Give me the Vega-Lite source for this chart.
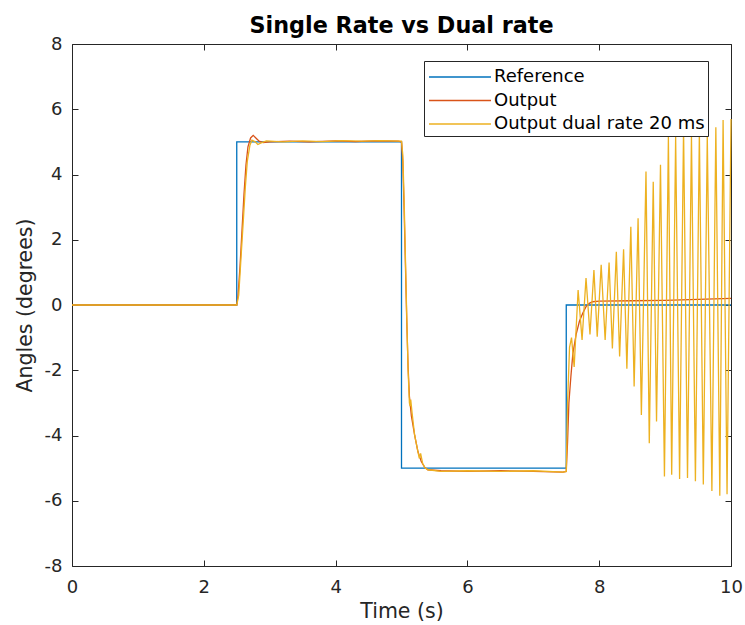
{
  "$schema": "https://vega.github.io/schema/vega-lite/v6.json",
  "width": 659,
  "height": 522,
  "autosize": {"type": "none"},
  "padding": {"left": 72, "top": 44, "right": 14, "bottom": 59},
  "background": "white",
  "title": {"text": "Single Rate vs Dual rate", "font": "DejaVu Sans", "fontSize": 22.3, "fontWeight": "bold", "color": "#000000", "offset": -2},
  "config": {
    "view": {"stroke": null},
    "axis": {"domainColor": "#262626", "tickColor": "#262626", "labelColor": "#262626", "titleColor": "#262626", "labelFont": "DejaVu Sans", "titleFont": "DejaVu Sans", "labelFontSize": 18, "titleFontSize": 20.5, "titleFontWeight": "normal", "grid": false, "tickSize": -6, "domainWidth": 1, "tickWidth": 1, "labelFlush": false, "labelOverlap": false, "labelExpr": "'' + datum.value"}
  },
  "data": {"values": [
    {"s": "Reference", "i": 0, "t": 0, "v": 0},
    {"s": "Reference", "i": 1, "t": 2.5, "v": 0},
    {"s": "Reference", "i": 2, "t": 2.5, "v": 5},
    {"s": "Reference", "i": 3, "t": 5, "v": 5},
    {"s": "Reference", "i": 4, "t": 5, "v": -5},
    {"s": "Reference", "i": 5, "t": 7.5, "v": -5},
    {"s": "Reference", "i": 6, "t": 7.5, "v": 0},
    {"s": "Reference", "i": 7, "t": 10, "v": 0},

    {"s": "Output", "i": 0, "t": 0, "v": 0},
    {"s": "Output", "i": 1, "t": 2.5, "v": 0},
    {"s": "Output", "i": 2, "t": 2.52, "v": 0.3},
    {"s": "Output", "i": 3, "t": 2.55, "v": 1.2},
    {"s": "Output", "i": 4, "t": 2.58, "v": 2.3},
    {"s": "Output", "i": 5, "t": 2.61, "v": 3.4},
    {"s": "Output", "i": 6, "t": 2.64, "v": 4.3},
    {"s": "Output", "i": 7, "t": 2.67, "v": 4.85},
    {"s": "Output", "i": 8, "t": 2.71, "v": 5.12},
    {"s": "Output", "i": 9, "t": 2.75, "v": 5.2},
    {"s": "Output", "i": 10, "t": 2.79, "v": 5.12},
    {"s": "Output", "i": 11, "t": 2.84, "v": 5.02},
    {"s": "Output", "i": 12, "t": 2.9, "v": 4.98},
    {"s": "Output", "i": 13, "t": 3.0, "v": 5.0},
    {"s": "Output", "i": 14, "t": 3.3, "v": 5.02},
    {"s": "Output", "i": 15, "t": 3.6, "v": 5.0},
    {"s": "Output", "i": 16, "t": 4.0, "v": 5.03},
    {"s": "Output", "i": 17, "t": 4.3, "v": 5.01},
    {"s": "Output", "i": 18, "t": 4.6, "v": 5.03},
    {"s": "Output", "i": 19, "t": 4.95, "v": 5.02},
    {"s": "Output", "i": 20, "t": 5.0, "v": 5.0},
    {"s": "Output", "i": 21, "t": 5.02, "v": 4.4},
    {"s": "Output", "i": 22, "t": 5.04, "v": 2.9},
    {"s": "Output", "i": 23, "t": 5.06, "v": 1.2},
    {"s": "Output", "i": 24, "t": 5.08, "v": -0.5},
    {"s": "Output", "i": 25, "t": 5.1, "v": -1.9},
    {"s": "Output", "i": 26, "t": 5.12, "v": -2.8},
    {"s": "Output", "i": 27, "t": 5.15, "v": -3.4},
    {"s": "Output", "i": 28, "t": 5.2, "v": -4.0},
    {"s": "Output", "i": 29, "t": 5.25, "v": -4.5},
    {"s": "Output", "i": 30, "t": 5.3, "v": -4.8},
    {"s": "Output", "i": 31, "t": 5.35, "v": -4.97},
    {"s": "Output", "i": 32, "t": 5.4, "v": -5.05},
    {"s": "Output", "i": 33, "t": 5.6, "v": -5.08},
    {"s": "Output", "i": 34, "t": 6.0, "v": -5.1},
    {"s": "Output", "i": 35, "t": 6.5, "v": -5.08},
    {"s": "Output", "i": 36, "t": 7.0, "v": -5.1},
    {"s": "Output", "i": 37, "t": 7.45, "v": -5.12},
    {"s": "Output", "i": 38, "t": 7.5, "v": -5.1},
    {"s": "Output", "i": 39, "t": 7.52, "v": -4.2},
    {"s": "Output", "i": 40, "t": 7.54, "v": -3.0},
    {"s": "Output", "i": 41, "t": 7.57, "v": -2.2},
    {"s": "Output", "i": 42, "t": 7.6, "v": -1.5},
    {"s": "Output", "i": 43, "t": 7.65, "v": -0.9},
    {"s": "Output", "i": 44, "t": 7.7, "v": -0.5},
    {"s": "Output", "i": 45, "t": 7.75, "v": -0.25},
    {"s": "Output", "i": 46, "t": 7.8, "v": -0.05},
    {"s": "Output", "i": 47, "t": 7.85, "v": 0.05},
    {"s": "Output", "i": 48, "t": 7.9, "v": 0.1},
    {"s": "Output", "i": 49, "t": 8.0, "v": 0.12},
    {"s": "Output", "i": 50, "t": 8.5, "v": 0.13},
    {"s": "Output", "i": 51, "t": 9.0, "v": 0.14},
    {"s": "Output", "i": 52, "t": 9.5, "v": 0.17},
    {"s": "Output", "i": 53, "t": 10.0, "v": 0.2},

    {"s": "Output dual rate 20 ms", "i": 0, "t": 0, "v": 0},
    {"s": "Output dual rate 20 ms", "i": 1, "t": 2.5, "v": 0},
    {"s": "Output dual rate 20 ms", "i": 2, "t": 2.53, "v": 0.3},
    {"s": "Output dual rate 20 ms", "i": 3, "t": 2.56, "v": 1.3},
    {"s": "Output dual rate 20 ms", "i": 4, "t": 2.6, "v": 2.6},
    {"s": "Output dual rate 20 ms", "i": 5, "t": 2.63, "v": 3.6},
    {"s": "Output dual rate 20 ms", "i": 6, "t": 2.66, "v": 4.4},
    {"s": "Output dual rate 20 ms", "i": 7, "t": 2.7, "v": 4.9},
    {"s": "Output dual rate 20 ms", "i": 8, "t": 2.73, "v": 5.05},
    {"s": "Output dual rate 20 ms", "i": 9, "t": 2.78, "v": 5.0},
    {"s": "Output dual rate 20 ms", "i": 10, "t": 2.82, "v": 4.92},
    {"s": "Output dual rate 20 ms", "i": 11, "t": 2.87, "v": 4.97},
    {"s": "Output dual rate 20 ms", "i": 12, "t": 2.95, "v": 5.03},
    {"s": "Output dual rate 20 ms", "i": 13, "t": 3.2, "v": 5.0},
    {"s": "Output dual rate 20 ms", "i": 14, "t": 3.5, "v": 5.03},
    {"s": "Output dual rate 20 ms", "i": 15, "t": 3.8, "v": 5.01},
    {"s": "Output dual rate 20 ms", "i": 16, "t": 4.1, "v": 5.04},
    {"s": "Output dual rate 20 ms", "i": 17, "t": 4.4, "v": 5.02},
    {"s": "Output dual rate 20 ms", "i": 18, "t": 4.7, "v": 5.04},
    {"s": "Output dual rate 20 ms", "i": 19, "t": 4.97, "v": 5.02},
    {"s": "Output dual rate 20 ms", "i": 20, "t": 5.0, "v": 5.02},
    {"s": "Output dual rate 20 ms", "i": 21, "t": 5.02, "v": 4.6},
    {"s": "Output dual rate 20 ms", "i": 22, "t": 5.04, "v": 3.2},
    {"s": "Output dual rate 20 ms", "i": 23, "t": 5.06, "v": 1.4},
    {"s": "Output dual rate 20 ms", "i": 24, "t": 5.08, "v": -0.4},
    {"s": "Output dual rate 20 ms", "i": 25, "t": 5.1, "v": -2.0},
    {"s": "Output dual rate 20 ms", "i": 26, "t": 5.12, "v": -3.0},
    {"s": "Output dual rate 20 ms", "i": 27, "t": 5.13, "v": -3.1},
    {"s": "Output dual rate 20 ms", "i": 28, "t": 5.14, "v": -2.9},
    {"s": "Output dual rate 20 ms", "i": 29, "t": 5.16, "v": -3.3},
    {"s": "Output dual rate 20 ms", "i": 30, "t": 5.2, "v": -4.0},
    {"s": "Output dual rate 20 ms", "i": 31, "t": 5.25, "v": -4.5},
    {"s": "Output dual rate 20 ms", "i": 32, "t": 5.27, "v": -4.7},
    {"s": "Output dual rate 20 ms", "i": 33, "t": 5.29, "v": -4.55},
    {"s": "Output dual rate 20 ms", "i": 34, "t": 5.32, "v": -4.85},
    {"s": "Output dual rate 20 ms", "i": 35, "t": 5.36, "v": -5.0},
    {"s": "Output dual rate 20 ms", "i": 36, "t": 5.4, "v": -5.05},
    {"s": "Output dual rate 20 ms", "i": 37, "t": 5.6, "v": -5.1},
    {"s": "Output dual rate 20 ms", "i": 38, "t": 6.0, "v": -5.08},
    {"s": "Output dual rate 20 ms", "i": 39, "t": 6.5, "v": -5.1},
    {"s": "Output dual rate 20 ms", "i": 40, "t": 7.0, "v": -5.08},
    {"s": "Output dual rate 20 ms", "i": 41, "t": 7.45, "v": -5.12},
    {"s": "Output dual rate 20 ms", "i": 42, "t": 7.5, "v": -5.1},
    {"s": "Output dual rate 20 ms", "i": 43, "t": 7.52, "v": -3.0},
    {"s": "Output dual rate 20 ms", "i": 44, "t": 7.55, "v": -1.3},
    {"s": "Output dual rate 20 ms", "i": 45, "t": 7.58, "v": -1.0},
    {"s": "Output dual rate 20 ms", "i": 46, "t": 7.62, "v": -1.9},
    {"s": "Output dual rate 20 ms", "i": 47, "t": 7.68, "v": 0.46},
    {"s": "Output dual rate 20 ms", "i": 48, "t": 7.74, "v": -1.07},
    {"s": "Output dual rate 20 ms", "i": 49, "t": 7.8, "v": 0.83},
    {"s": "Output dual rate 20 ms", "i": 50, "t": 7.86, "v": -0.9},
    {"s": "Output dual rate 20 ms", "i": 51, "t": 7.92, "v": 1.07},
    {"s": "Output dual rate 20 ms", "i": 52, "t": 7.97, "v": -0.97},
    {"s": "Output dual rate 20 ms", "i": 53, "t": 8.03, "v": 1.23},
    {"s": "Output dual rate 20 ms", "i": 54, "t": 8.09, "v": -1.07},
    {"s": "Output dual rate 20 ms", "i": 55, "t": 8.15, "v": 1.3},
    {"s": "Output dual rate 20 ms", "i": 56, "t": 8.2, "v": -1.33},
    {"s": "Output dual rate 20 ms", "i": 57, "t": 8.26, "v": 1.63},
    {"s": "Output dual rate 20 ms", "i": 58, "t": 8.31, "v": -1.58},
    {"s": "Output dual rate 20 ms", "i": 59, "t": 8.37, "v": 1.71},
    {"s": "Output dual rate 20 ms", "i": 60, "t": 8.42, "v": -1.95},
    {"s": "Output dual rate 20 ms", "i": 61, "t": 8.48, "v": 2.4},
    {"s": "Output dual rate 20 ms", "i": 62, "t": 8.53, "v": -2.5},
    {"s": "Output dual rate 20 ms", "i": 63, "t": 8.59, "v": 2.66},
    {"s": "Output dual rate 20 ms", "i": 64, "t": 8.64, "v": -3.37},
    {"s": "Output dual rate 20 ms", "i": 65, "t": 8.71, "v": 4.09},
    {"s": "Output dual rate 20 ms", "i": 66, "t": 8.76, "v": -4.24},
    {"s": "Output dual rate 20 ms", "i": 67, "t": 8.82, "v": 3.78},
    {"s": "Output dual rate 20 ms", "i": 68, "t": 8.87, "v": -3.57},
    {"s": "Output dual rate 20 ms", "i": 69, "t": 8.93, "v": 4.3},
    {"s": "Output dual rate 20 ms", "i": 70, "t": 8.99, "v": -5.26},
    {"s": "Output dual rate 20 ms", "i": 71, "t": 9.05, "v": 5.15},
    {"s": "Output dual rate 20 ms", "i": 72, "t": 9.1, "v": -5.2},
    {"s": "Output dual rate 20 ms", "i": 73, "t": 9.16, "v": 5.16},
    {"s": "Output dual rate 20 ms", "i": 74, "t": 9.22, "v": -5.33},
    {"s": "Output dual rate 20 ms", "i": 75, "t": 9.28, "v": 5.4},
    {"s": "Output dual rate 20 ms", "i": 76, "t": 9.34, "v": -5.3},
    {"s": "Output dual rate 20 ms", "i": 77, "t": 9.4, "v": 5.18},
    {"s": "Output dual rate 20 ms", "i": 78, "t": 9.46, "v": -5.4},
    {"s": "Output dual rate 20 ms", "i": 79, "t": 9.52, "v": 5.3},
    {"s": "Output dual rate 20 ms", "i": 80, "t": 9.58, "v": -5.5},
    {"s": "Output dual rate 20 ms", "i": 81, "t": 9.64, "v": 5.18},
    {"s": "Output dual rate 20 ms", "i": 82, "t": 9.71, "v": -5.7},
    {"s": "Output dual rate 20 ms", "i": 83, "t": 9.77, "v": 5.45},
    {"s": "Output dual rate 20 ms", "i": 84, "t": 9.83, "v": -5.85},
    {"s": "Output dual rate 20 ms", "i": 85, "t": 9.88, "v": 5.67},
    {"s": "Output dual rate 20 ms", "i": 86, "t": 9.94, "v": -5.8},
    {"s": "Output dual rate 20 ms", "i": 87, "t": 10.0, "v": 5.7}
  ]},
  "layer": [
    {
      "mark": {"type": "line", "strokeWidth": 1.3},
      "encoding": {
        "x": {"field": "t", "type": "quantitative", "scale": {"domain": [0, 10], "nice": false, "zero": false}, "axis": {"title": "Time (s)", "values": [0, 2, 4, 6, 8, 10], "labelPadding": 18, "titlePadding": 5}},
        "y": {"field": "v", "type": "quantitative", "scale": {"domain": [-8, 8], "nice": false, "zero": false}, "axis": {"title": "Angles (degrees)", "values": [-8, -6, -4, -2, 0, 2, 4, 6, 8], "labelPadding": 16, "titlePadding": 9}},
        "color": {"field": "s", "type": "nominal",
          "scale": {"domain": ["Reference", "Output", "Output dual rate 20 ms"], "range": ["#0072BD", "#D95319", "#EDB120"]},
          "legend": {"title": null, "orient": "none", "legendX": 352, "legendY": 17, "symbolType": "M-2.583,0H2.583", "symbolSize": 576, "symbolOffset": 20, "symbolStrokeWidth": 1.5, "labelFont": "DejaVu Sans", "labelFontSize": 18, "labelLimit": 400, "labelColor": "#000000", "labelOffset": 21, "strokeColor": "#262626", "fillColor": "white", "padding": 3, "rowPadding": 1.5, "cornerRadius": 0}},
        "order": {"field": "i", "type": "quantitative"}
      }
    },
    {
      "mark": {"type": "point", "opacity": 0},
      "encoding": {
        "x": {"field": "t", "type": "quantitative", "axis": {"orient": "top", "title": null, "labels": false, "values": [0, 2, 4, 6, 8, 10]}},
        "y": {"field": "v", "type": "quantitative", "axis": {"orient": "right", "title": null, "labels": false, "values": [-8, -6, -4, -2, 0, 2, 4, 6, 8]}}
      }
    }
  ],
  "resolve": {"axis": {"x": "independent", "y": "independent"}}
}
